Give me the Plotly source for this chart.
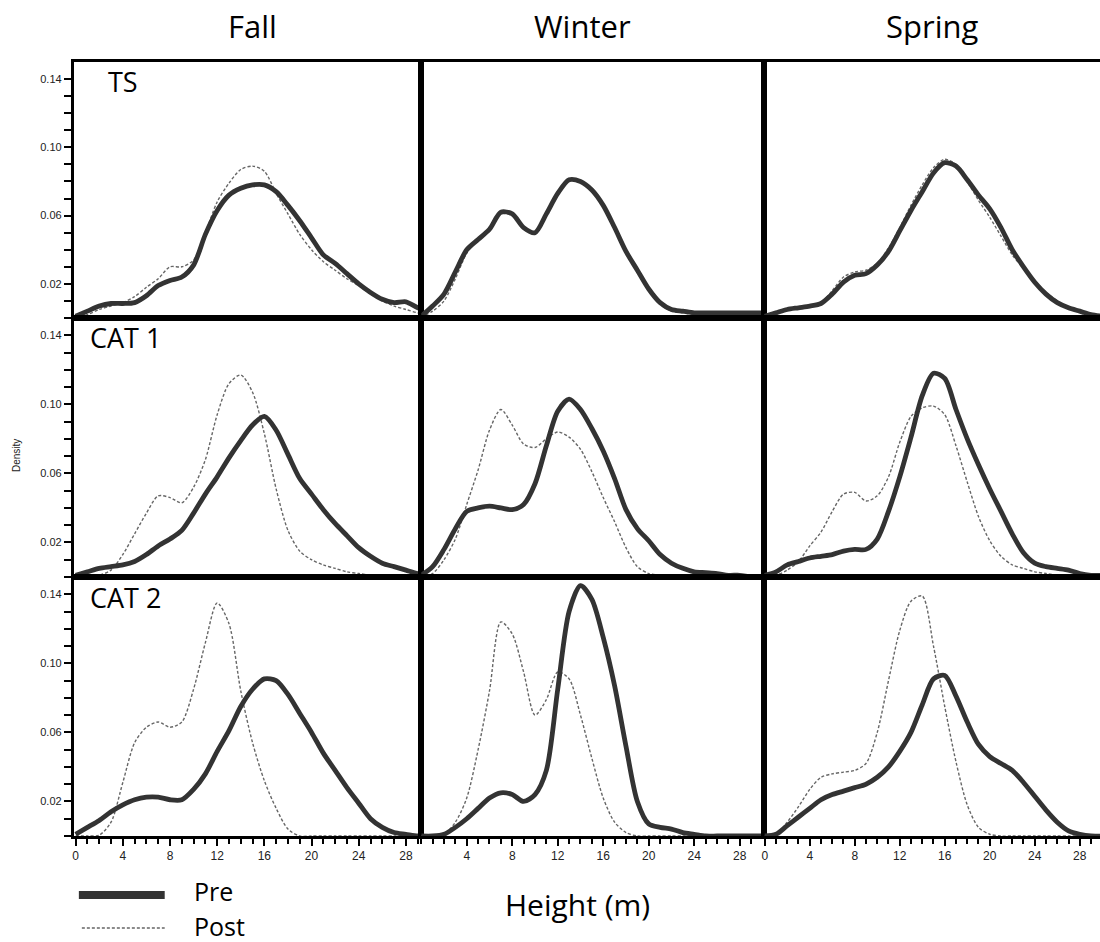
import plotly.graph_objects as go

HEIGHT = list(range(0, 31))

SEASONS = ["Fall", "Winter", "Spring"]
STORMS = ["TS", "CAT 1", "CAT 2"]

FALL_TS_PRE = [0.001, 0.004, 0.007, 0.0085, 0.0085, 0.009, 0.013, 0.019, 0.022, 0.024, 0.031, 0.049, 0.063, 0.072, 0.076, 0.078, 0.078, 0.074, 0.066, 0.057, 0.047, 0.037, 0.032, 0.026, 0.020, 0.015, 0.011, 0.009, 0.0095, 0.006, 0.004]
FALL_TS_POST = [0.0005, 0.002, 0.005, 0.007, 0.009, 0.0125, 0.018, 0.023, 0.030, 0.030, 0.034, 0.050, 0.068, 0.079, 0.087, 0.089, 0.086, 0.073, 0.061, 0.049, 0.040, 0.033, 0.028, 0.023, 0.019, 0.014, 0.010, 0.007, 0.005, 0.003, 0.002]
WINTER_TS_PRE = [0.001, 0.007, 0.014, 0.027, 0.040, 0.046, 0.052, 0.062, 0.061, 0.053, 0.050, 0.061, 0.073, 0.081, 0.080, 0.075, 0.066, 0.053, 0.039, 0.028, 0.017, 0.009, 0.005, 0.004, 0.003, 0.003, 0.003, 0.003, 0.003, 0.003, 0.003]
WINTER_TS_POST = [0.0005, 0.004, 0.010, 0.023, 0.038, 0.046, 0.052, 0.061, 0.060, 0.053, 0.050, 0.061, 0.073, 0.081, 0.080, 0.075, 0.066, 0.053, 0.039, 0.027, 0.016, 0.008, 0.004, 0.003, 0.002, 0.002, 0.002, 0.002, 0.002, 0.002, 0.002]
SPRING_TS_PRE = [0.001, 0.003, 0.005, 0.006, 0.007, 0.0085, 0.014, 0.021, 0.025, 0.026, 0.031, 0.039, 0.051, 0.063, 0.074, 0.085, 0.091, 0.089, 0.081, 0.072, 0.064, 0.053, 0.040, 0.030, 0.021, 0.014, 0.009, 0.006, 0.004, 0.002, 0.001]
SPRING_TS_POST = [0.001, 0.003, 0.005, 0.006, 0.007, 0.009, 0.016, 0.024, 0.027, 0.028, 0.032, 0.041, 0.053, 0.066, 0.078, 0.088, 0.093, 0.090, 0.080, 0.069, 0.059, 0.048, 0.037, 0.029, 0.022, 0.015, 0.010, 0.006, 0.003, 0.001, 0.001]

FALL_CAT1_PRE = [0.001, 0.003, 0.005, 0.006, 0.007, 0.009, 0.013, 0.018, 0.022, 0.027, 0.037, 0.048, 0.058, 0.069, 0.079, 0.088, 0.093, 0.085, 0.071, 0.057, 0.048, 0.039, 0.031, 0.024, 0.017, 0.012, 0.008, 0.006, 0.004, 0.002, 0.001]
FALL_CAT1_POST = [0.0, 0.0, 0.001, 0.004, 0.013, 0.025, 0.037, 0.047, 0.046, 0.043, 0.052, 0.068, 0.094, 0.112, 0.117, 0.107, 0.083, 0.051, 0.027, 0.015, 0.010, 0.007, 0.005, 0.003, 0.002, 0.001, 0.0, 0.0, 0.0, 0.0, 0.0]
WINTER_CAT1_PRE = [0.001, 0.006, 0.016, 0.028, 0.038, 0.040, 0.041, 0.040, 0.039, 0.042, 0.054, 0.076, 0.096, 0.103, 0.097, 0.086, 0.073, 0.057, 0.039, 0.028, 0.021, 0.013, 0.008, 0.005, 0.003, 0.0025, 0.002, 0.001, 0.001, 0.0, 0.0]
WINTER_CAT1_POST = [0.0, 0.002, 0.010, 0.022, 0.042, 0.062, 0.085, 0.097, 0.088, 0.077, 0.075, 0.080, 0.084, 0.081, 0.074, 0.061, 0.046, 0.032, 0.017, 0.006, 0.002, 0.001, 0.0, 0.0, 0.0, 0.0, 0.0, 0.0, 0.0, 0.0, 0.0]
SPRING_CAT1_PRE = [0.001, 0.003, 0.007, 0.009, 0.011, 0.012, 0.013, 0.015, 0.016, 0.016, 0.022, 0.038, 0.058, 0.081, 0.105, 0.118, 0.115, 0.097, 0.080, 0.065, 0.051, 0.038, 0.025, 0.014, 0.008, 0.006, 0.005, 0.004, 0.002, 0.001, 0.001]
SPRING_CAT1_POST = [0.0, 0.001, 0.004, 0.009, 0.018, 0.026, 0.038, 0.048, 0.049, 0.044, 0.047, 0.058, 0.078, 0.093, 0.098, 0.099, 0.094, 0.076, 0.055, 0.035, 0.021, 0.012, 0.007, 0.005, 0.003, 0.002, 0.001, 0.0, 0.0, 0.0, 0.0]

FALL_CAT2_PRE = [0.001, 0.005, 0.009, 0.014, 0.018, 0.021, 0.0225, 0.0225, 0.021, 0.021, 0.027, 0.036, 0.049, 0.061, 0.075, 0.085, 0.091, 0.090, 0.082, 0.071, 0.060, 0.048, 0.038, 0.028, 0.019, 0.010, 0.005, 0.002, 0.001, 0.0, 0.0]
FALL_CAT2_POST = [0.0, 0.0, 0.0005, 0.008, 0.031, 0.054, 0.063, 0.066, 0.063, 0.066, 0.085, 0.112, 0.135, 0.123, 0.084, 0.054, 0.032, 0.016, 0.004, 0.0, 0.0, 0.0, 0.0, 0.0, 0.0, 0.0, 0.0, 0.0, 0.0, 0.0, 0.0]
WINTER_CAT2_PRE = [0.0, 0.0, 0.001, 0.005, 0.010, 0.016, 0.022, 0.025, 0.024, 0.020, 0.024, 0.038, 0.085, 0.130, 0.145, 0.137, 0.115, 0.087, 0.052, 0.020, 0.007, 0.005, 0.004, 0.002, 0.001, 0.0, 0.0, 0.0, 0.0, 0.0, 0.0]
WINTER_CAT2_POST = [0.0, 0.0, 0.001, 0.008, 0.022, 0.050, 0.084, 0.124, 0.117, 0.095, 0.070, 0.079, 0.095, 0.091, 0.070, 0.045, 0.022, 0.008, 0.002, 0.0, 0.0, 0.0, 0.0, 0.0, 0.0, 0.0, 0.0, 0.0, 0.0, 0.0, 0.0]
SPRING_CAT2_PRE = [0.0, 0.001, 0.006, 0.011, 0.016, 0.021, 0.024, 0.026, 0.028, 0.030, 0.034, 0.040, 0.049, 0.060, 0.076, 0.091, 0.093, 0.081, 0.066, 0.053, 0.046, 0.042, 0.038, 0.031, 0.023, 0.015, 0.008, 0.003, 0.001, 0.0, 0.0]
SPRING_CAT2_POST = [0.0, 0.001, 0.008, 0.017, 0.027, 0.034, 0.036, 0.037, 0.038, 0.042, 0.060, 0.090, 0.119, 0.136, 0.139, 0.110, 0.075, 0.043, 0.018, 0.005, 0.001, 0.0, 0.0, 0.0, 0.0, 0.0, 0.0, 0.0, 0.0, 0.0, 0.0]

Y_TICKS = [0.02, 0.06, 0.10, 0.14]
Y_TICK_TEXT = ["0.02", "0.06", "0.10", "0.14"]
X_TICKS = [0, 4, 8, 12, 16, 20, 24, 28]

PANELS = [
    [(FALL_TS_PRE, FALL_TS_POST), (WINTER_TS_PRE, WINTER_TS_POST), (SPRING_TS_PRE, SPRING_TS_POST)],
    [(FALL_CAT1_PRE, FALL_CAT1_POST), (WINTER_CAT1_PRE, WINTER_CAT1_POST), (SPRING_CAT1_PRE, SPRING_CAT1_POST)],
    [(FALL_CAT2_PRE, FALL_CAT2_POST), (WINTER_CAT2_PRE, WINTER_CAT2_POST), (SPRING_CAT2_PRE, SPRING_CAT2_POST)],
]

W, H = 1100, 942
COL_PX = [(72, 420), (420, 763), (763, 1100)]
ROW_PX = [(62, 318), (318, 577), (577, 836)]
X_RANGES = [[-0.15, 29.3], [0.0, 30.1], [-0.1, 29.8]]
Y_RANGE = [0, 0.15]

PRE_COLOR = "#333333"
POST_COLOR = "#666666"
TICK_FONT = dict(family="Liberation Sans, Arial, sans-serif", size=11, color="#222222")
XTICK_FONT = dict(family="Liberation Sans, Arial, sans-serif", size=12, color="#222222")
TEXT_FONT = "Open Sans, Noto Sans, sans-serif"

fig = go.Figure()
layout = {}

for r in range(3):
    for c in range(3):
        idx = r * 3 + c + 1
        xa = "x" if idx == 1 else f"x{idx}"
        ya = "y" if idx == 1 else f"y{idx}"
        pre, post = PANELS[r][c]
        fig.add_trace(go.Scatter(
            x=HEIGHT, y=post, mode="lines", xaxis=xa, yaxis=ya,
            line=dict(color=POST_COLOR, width=1.4, dash="3px,2px", shape="spline", smoothing=0.8),
            showlegend=False, hoverinfo="skip"))
        fig.add_trace(go.Scatter(
            x=HEIGHT, y=pre, mode="lines", xaxis=xa, yaxis=ya,
            line=dict(color=PRE_COLOR, width=4.8, shape="spline", smoothing=0.8),
            showlegend=False, hoverinfo="skip"))

        x0, x1 = COL_PX[c]
        y0, y1 = ROW_PX[r]
        xdom = [x0 / W, x1 / W]
        ydom = [1 - y1 / H, 1 - y0 / H]
        bottom = (r == 2)
        left = (c == 0)
        xaxis = dict(
            domain=xdom, range=X_RANGES[c], anchor=ya,
            showgrid=False, zeroline=False,
            showline=True, mirror=True, linecolor="black", linewidth=3,
            ticks="outside" if bottom else "",
            showticklabels=bottom,
            tickmode="array",
            tickvals=[t for t in X_TICKS if not (c == 1 and t == 0)],
            ticklen=7, tickwidth=2, tickcolor="black",
            tickfont=XTICK_FONT,
        )
        if bottom:
            xaxis["minor"] = dict(tickmode="array", tickvals=list(range(0, 30)),
                                  ticks="outside", ticklen=5, tickwidth=2, tickcolor="black")
        yaxis = dict(
            domain=ydom, range=Y_RANGE, anchor=xa,
            showgrid=False, zeroline=False,
            showline=True, mirror=(c != 2), linecolor="black", linewidth=3,
            ticks="outside" if left else "",
            showticklabels=left,
            tickmode="array", tickvals=Y_TICKS, ticktext=Y_TICK_TEXT,
            ticklen=7, tickwidth=2, tickcolor="black",
            tickfont=TICK_FONT,
        )
        if left:
            yaxis["minor"] = dict(tickmode="array", tickvals=[i / 100 for i in range(0, 15)],
                                  ticks="outside", ticklen=7, tickwidth=2, tickcolor="black")
        layout["xaxis" if idx == 1 else f"xaxis{idx}"] = xaxis
        layout["yaxis" if idx == 1 else f"yaxis{idx}"] = yaxis

annotations = []
title_x = [251, 582, 932]
for c, name in enumerate(SEASONS):
    annotations.append(dict(text=name, x=title_x[c] / W, y=1 - 26 / H, xref="paper", yref="paper",
                            showarrow=False, font=dict(family=TEXT_FONT, size=31, color="black"),
                            xanchor="center", yanchor="middle"))
label_pos = [(104, 82), (86, 337), (86, 597)]
for r, name in enumerate(STORMS):
    lx, ly = label_pos[r]
    annotations.append(dict(text=name, x=lx / W, y=1 - ly / H, xref="paper", yref="paper",
                            showarrow=False, font=dict(family=TEXT_FONT, size=27, color="black"),
                            xanchor="left", yanchor="middle"))
annotations.append(dict(text="Density", x=14 / W, y=1 - 455 / H, xref="paper", yref="paper",
                        showarrow=False, textangle=-90,
                        font=dict(family="Liberation Sans, Arial, sans-serif", size=10, color="#222222"),
                        xanchor="center", yanchor="middle"))
annotations.append(dict(text="Height (m)", x=577 / W, y=1 - 904 / H, xref="paper", yref="paper",
                        showarrow=False, font=dict(family=TEXT_FONT, size=30, color="black"),
                        xanchor="center", yanchor="middle"))
annotations.append(dict(text="Pre", x=190 / W, y=1 - 891 / H, xref="paper", yref="paper",
                        showarrow=False, font=dict(family=TEXT_FONT, size=25, color="black"),
                        xanchor="left", yanchor="middle"))
annotations.append(dict(text="Post", x=190 / W, y=1 - 926 / H, xref="paper", yref="paper",
                        showarrow=False, font=dict(family=TEXT_FONT, size=25, color="black"),
                        xanchor="left", yanchor="middle"))

shapes = [
    dict(type="line", xref="paper", yref="paper", x0=77 / W, x1=163 / W, y0=1 - 895 / H, y1=1 - 895 / H,
         line=dict(color=PRE_COLOR, width=8)),
    dict(type="line", xref="paper", yref="paper", x0=80 / W, x1=163 / W, y0=1 - 928 / H, y1=1 - 928 / H,
         line=dict(color=POST_COLOR, width=1.6, dash="3px,2px")),
]

fig.update_layout(
    width=W, height=H,
    margin=dict(l=0, r=0, t=0, b=0),
    paper_bgcolor="white", plot_bgcolor="white",
    annotations=annotations, shapes=shapes,
    showlegend=False,
    **layout,
)

fig.write_html("out.html", config={"displayModeBar": False},
               post_script="document.body.style.margin='0';document.body.style.overflow='hidden';")
